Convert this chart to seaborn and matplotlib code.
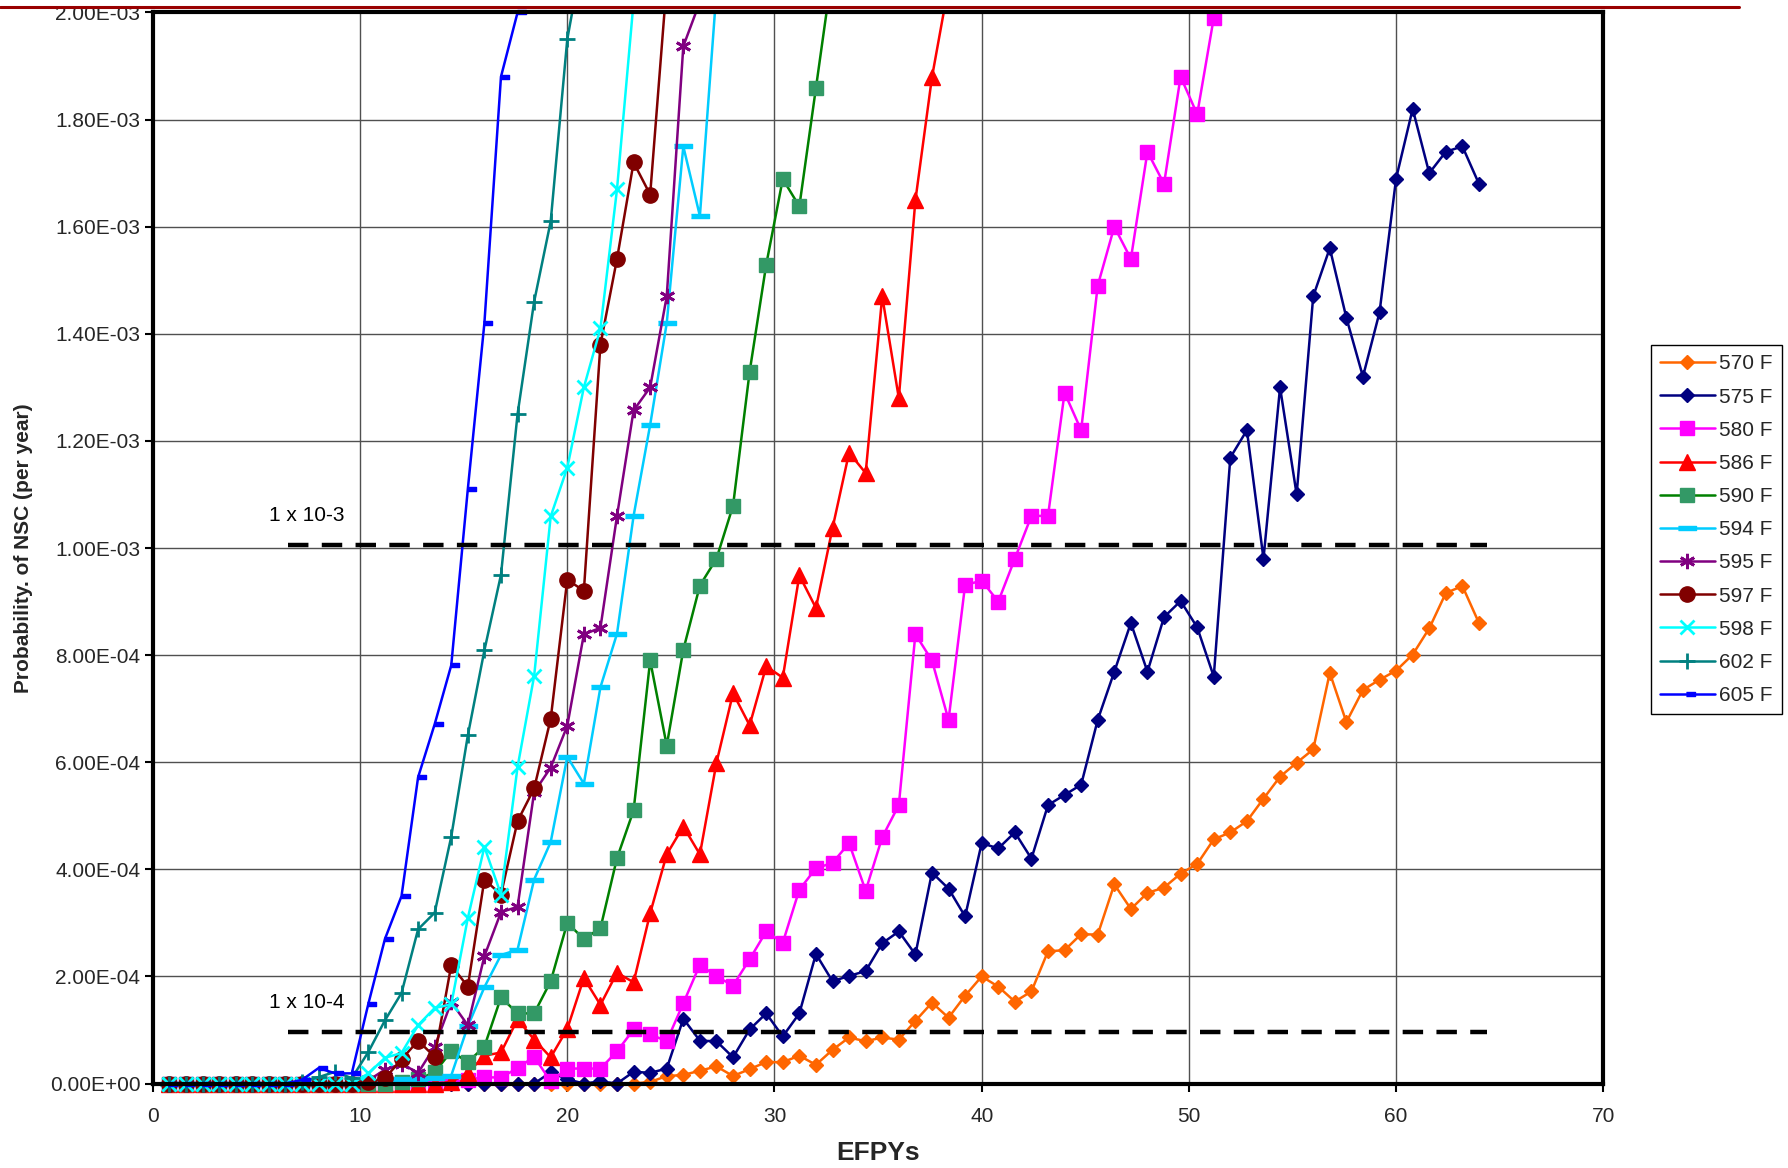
import numpy as np
import pandas as pd
import matplotlib
matplotlib.use("Agg")
import matplotlib.pyplot as plt
from matplotlib.lines import Line2D
import seaborn as sns

sns.set_theme(style="white")
plt.rcParams["font.family"] = ["Liberation Sans", "DejaVu Sans"]

# Evaluation points are spaced 0.8 EFPY apart, starting at 0.8 EFPY.
STEP = 0.8
Y_MAX = 2.0e-3

# Probability of NSC per year, in units of 1e-4, one entry per evaluation point.
p570 = [0.0] * 29 + [
    0.03, 0.14, 0.16, 0.24, 0.32, 0.14, 0.27, 0.40, 0.40, 0.52,
    0.35, 0.63, 0.86, 0.79, 0.86, 0.82, 1.17, 1.51, 1.23, 1.64,
    2.00, 1.81, 1.53, 1.72, 2.47, 2.49, 2.79, 2.78, 3.72, 3.26,
    3.56, 3.66, 3.92, 4.10, 4.56, 4.69, 4.90, 5.32, 5.73, 5.99,
    6.24, 7.67, 6.75, 7.35, 7.54, 7.71, 8.01, 8.50, 9.16, 9.29,
    8.60]
p575 = [0.0] * 23 + [
    0.21, 0.08, 0.00, 0.04, 0.00, 0.22, 0.20, 0.28, 1.21, 0.80,
    0.79, 0.49, 1.01, 1.31, 0.88, 1.31, 2.42, 1.91, 2.01, 2.10,
    2.62, 2.84, 2.41, 3.94, 3.64, 3.12, 4.49, 4.39, 4.69, 4.20,
    5.20, 5.39, 5.58, 6.79, 7.69, 8.60, 7.69, 8.71, 9.01, 8.52,
    7.60, 11.69, 12.20, 9.80, 13.00, 11.00, 14.70, 15.60, 14.30, 13.20,
    14.40, 16.90, 18.20, 17.00, 17.40, 17.50, 16.80]
p580 = [0.0] * 17 + [
    0.03, 0.07, 0.12, 0.11, 0.29, 0.50, 0.04, 0.28, 0.28, 0.28,
    0.60, 1.01, 0.92, 0.79, 1.50, 2.22, 2.00, 1.83, 2.32, 2.84,
    2.63, 3.62, 4.02, 4.12, 4.49, 3.60, 4.60, 5.20, 8.39, 7.90,
    6.79, 9.31, 9.39, 9.00, 9.80, 10.60, 10.60, 12.90, 12.20, 14.90,
    16.00, 15.40, 17.40, 16.80, 18.80, 18.10, 19.90, 21.30]
p586 = [0.0] * 17 + [
    0.03, 0.20, 0.52, 0.58, 1.20, 0.82, 0.49, 1.02, 1.97, 1.47,
    2.07, 1.89, 3.18, 4.28, 4.80, 4.28, 5.99, 7.29, 6.69, 7.79,
    7.58, 9.49, 8.88, 10.37, 11.78, 11.40, 14.70, 12.80, 16.49, 18.79,
    20.50]
p590 = [0.0] * 12 + [
    0.00, 0.00, 0.02, 0.08, 0.21, 0.60, 0.40, 0.69, 1.61, 1.31,
    1.31, 1.91, 3.00, 2.70, 2.90, 4.21, 5.10, 7.90, 6.31, 8.10,
    9.30, 9.80, 10.79, 13.29, 15.29, 16.89, 16.38, 18.59, 20.80]
p594 = [0.0] * 12 + [
    0.02, 0.05, 0.09, 0.08, 0.10, 0.15, 1.07, 1.80, 2.40, 2.50,
    3.81, 4.51, 6.10, 5.60, 7.40, 8.40, 10.60, 12.30, 14.20, 17.50,
    16.20, 20.40]
p595 = [0.0] * 12 + [
    0.06, 0.26, 0.37, 0.20, 0.69, 1.52, 1.09, 2.38, 3.20, 3.30,
    5.44, 5.90, 6.68, 8.39, 8.51, 10.60, 12.57, 13.00, 14.70, 19.37,
    20.20]
p597 = [0.0] * 12 + [
    0.02, 0.10, 0.45, 0.80, 0.50, 2.21, 1.81, 3.81, 3.53, 4.90,
    5.51, 6.81, 9.41, 9.20, 13.80, 15.40, 17.20, 16.60, 20.55]
p598 = [0.0] * 12 + [
    0.19, 0.48, 0.57, 1.09, 1.41, 1.48, 3.09, 4.42, 3.53, 5.91,
    7.61, 10.59, 11.50, 13.00, 14.10, 16.70, 20.20]
p602 = [0.0] * 8 + [
    0.02, 0.12, 0.22, 0.10, 0.59, 1.18, 1.69, 2.88, 3.19, 4.61,
    6.50, 8.09, 9.50, 12.50, 14.60, 16.10, 19.50, 21.20]
p605 = [0.0] * 8 + [
    0.07, 0.29, 0.19, 0.19, 1.49, 2.70, 3.50, 5.72, 6.71, 7.81,
    11.10, 14.20, 18.80, 20.00, 21.00]

labels = ["570 F", "575 F", "580 F", "586 F", "590 F", "594 F",
          "595 F", "597 F", "598 F", "602 F", "605 F"]
values = [p570, p575, p580, p586, p590, p594, p595, p597, p598, p602, p605]

# reference levels drawn as dashed guides
guide_levels = [1.005e-3, 0.96e-4]
guide_texts = ["1 x 10-3", "1 x 10-4"]
guide_x = (6.5, 64.4)

# Excel-style "short dash" markers
dash_mid = [(-1, -0.2), (1, -0.2), (1, 0.2), (-1, 0.2)]
dash_right = [(-0.15, -0.3), (1, -0.3), (1, 0.3), (-0.15, 0.3)]

styles = {
    "570 F": dict(color="#FF6600", marker="D", ms=7.6, mfc="#FF6600", mec="#FF6600", mew=1),
    "575 F": dict(color="#000080", marker="D", ms=7.6, mfc="#000080", mec="#000080", mew=1),
    "580 F": dict(color="#FF00FF", marker="s", ms=10, mfc="#FF00FF", mec="#FF00FF", mew=1),
    "586 F": dict(color="#FF0000", marker="^", ms=11, mfc="#FF0000", mec="#FF0000", mew=1),
    "590 F": dict(color="#008000", marker="s", ms=10, mfc="#339966", mec="#339966", mew=1),
    "594 F": dict(color="#00CCFF", marker=dash_mid, ms=13, mfc="#00CCFF", mec="#00CCFF", mew=1),
    "595 F": dict(color="#800080", marker=(6, 2, 0), ms=11, mfc="#800080", mec="#800080", mew=2),
    "597 F": dict(color="#800000", marker="o", ms=11, mfc="#800000", mec="#800000", mew=1),
    "598 F": dict(color="#00FFFF", marker="x", ms=10, mfc="#00FFFF", mec="#00FFFF", mew=2),
    "602 F": dict(color="#008080", marker="+", ms=11, mfc="#008080", mec="#008080", mew=2),
    "605 F": dict(color="#0000FF", marker=dash_right, ms=11, mfc="#0000FF", mec="#0000FF", mew=1),
}

frames = []
for lab, vals in zip(labels, values):
    n = len(vals)
    frames.append(pd.DataFrame({
        "EFPY": np.round(STEP * np.arange(1, n + 1), 1),
        "prob": np.array(vals) * 1e-4,
        "series": lab,
    }))
df = pd.concat(frames, ignore_index=True)

fig = plt.figure(figsize=(17.88, 11.68), dpi=100)
ax = fig.add_axes([0.0855, 0.0723, 0.8112, 0.917])

for i, lab in enumerate(labels):
    st = styles[lab]
    sub = df[df["series"] == lab]
    # connecting line, clipped to the plot area
    sns.lineplot(data=sub, x="EFPY", y="prob", ax=ax, color=st["color"],
                 linewidth=1.8, legend=False, zorder=3 + 0.01 * i)
    # markers for points inside the value range, drawn whole at the edges
    pts = sub[sub["prob"] <= Y_MAX + 1e-12]
    sns.lineplot(data=pts, x="EFPY", y="prob", ax=ax, linestyle="",
                 marker=st["marker"], markersize=st["ms"],
                 markerfacecolor=st["mfc"], markeredgecolor=st["mec"],
                 markeredgewidth=st["mew"], legend=False, clip_on=False,
                 zorder=3 + 0.01 * i + 0.005)

for lvl, txt in zip(guide_levels, guide_texts):
    ax.plot(guide_x, [lvl, lvl], color="black", lw=3.2,
            linestyle=(0, (4.6, 3.0)), zorder=4)
    ax.text(5.6, lvl + 0.55e-4, txt, fontsize=15, color="black",
            ha="left", va="center")

ax.set_xlim(0, 70)
ax.set_ylim(0, Y_MAX)
ax.set_xticks(np.arange(0, 71, 10))
yt = np.arange(0, Y_MAX + 1e-5, 2e-4)
ax.set_yticks(yt)
ax.set_yticklabels([f"{v:.2E}" for v in yt])
ax.grid(True, color="#505050", linewidth=1.0, zorder=0)
ax.set_axisbelow(True)
for sp in ax.spines.values():
    sp.set_visible(True)
    sp.set_color("black")
    sp.set_linewidth(3.0)
    sp.set_zorder(5)
ax.tick_params(axis="both", which="major", direction="out", length=6,
               width=1.5, color="black", labelsize=15, pad=3,
               bottom=True, left=True)
ax.tick_params(axis="x", pad=11)

ax.set_xlabel("EFPYs", fontsize=19, fontweight="bold", labelpad=11)
ax.set_ylabel("Probability. of NSC (per year)", fontsize=15,
              fontweight="bold", labelpad=12)

handles = []
for lab in labels:
    st = styles[lab]
    handles.append(Line2D([0], [0], color=st["color"], lw=1.8,
                          marker=st["marker"], markersize=st["ms"],
                          markerfacecolor=st["mfc"], markeredgecolor=st["mec"],
                          markeredgewidth=st["mew"]))
leg = ax.legend(handles, labels, loc="upper left",
                bbox_to_anchor=(1651 / 1788, 1 - 345 / 1168),
                bbox_transform=fig.transFigure, fontsize=15, frameon=True,
                fancybox=False, edgecolor="black", framealpha=1,
                handlelength=2.6, handletextpad=0.2, labelspacing=0.68,
                borderpad=0.45, borderaxespad=0)
leg.get_frame().set_linewidth(1.0)

# thin dark-red rule across the top of the page
fig.add_artist(Line2D([0, 0.9726], [0.9941, 0.9941], color="#990000",
                      lw=2.2, transform=fig.transFigure))

fig.savefig("out.png", dpi=100, facecolor="white")
